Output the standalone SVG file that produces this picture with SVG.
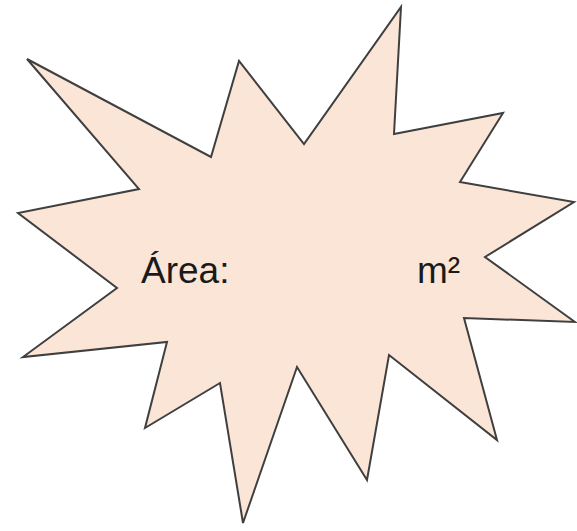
<svg xmlns="http://www.w3.org/2000/svg" width="577" height="531" viewBox="0 0 577 531">
<style>
.shape{fill:#fbe5d6;stroke:#3f3f3f;stroke-width:2;stroke-linejoin:miter}
.lbl{font-family:"Liberation Sans",Arial,sans-serif;font-size:37px;fill:#1a1a1a}
</style>
<rect width="577" height="531" fill="#ffffff"/>
<g id="burst">
<polygon class="shape" points="27,59 211,157 239,61 304,144 401,7 394,134 503,113 460,182 574,202 485,257 575,322 464,318 497,440 389,355 367,480 297,367 243,523 220,383 145,428 167,342 23,357 117,288 18,213 139,189"/>
</g>
<g id="labels">
<text class="lbl" x="141" y="283">Área:</text>
<text class="lbl" x="417" y="283">m²</text>
</g>
</svg>
